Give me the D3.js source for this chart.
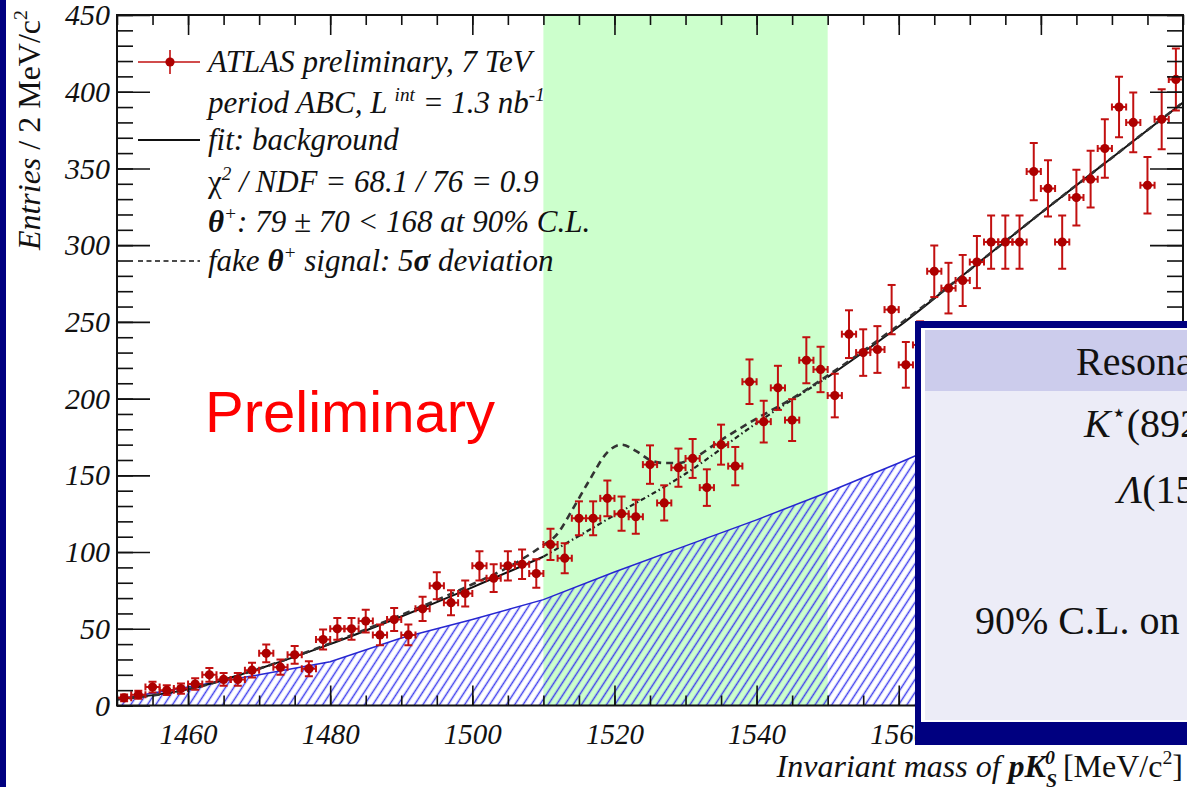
<!DOCTYPE html>
<html>
<head>
<meta charset="utf-8">
<script src="https://cdnjs.cloudflare.com/ajax/libs/d3/7.8.5/d3.min.js"></script>
<style>
  body { margin: 0; background: #fff; overflow: hidden; }
  svg { display: block; }
</style>
</head>
<body>
<svg id="chart" width="1187" height="787"></svg>
<script>

// ---- data ----
// 2 MeV bins, centre of each bin
var binCenters = [1451, 1453, 1455, 1457, 1459, 1461, 1463, 1465, 1467, 1469,
  1471, 1473, 1475, 1477, 1479, 1481, 1483, 1485, 1487, 1489,
  1491, 1493, 1495, 1497, 1499, 1501, 1503, 1505, 1507, 1509,
  1511, 1513, 1515, 1517, 1519, 1521, 1523, 1525, 1527, 1529,
  1531, 1533, 1535, 1537, 1539, 1541, 1543, 1545, 1547, 1549,
  1551, 1553, 1555, 1557, 1559, 1561, 1563, 1565, 1567, 1569,
  1571, 1573, 1575, 1577, 1579, 1581, 1583, 1585, 1587, 1589,
  1591, 1593, 1595, 1597, 1599]

var entries = [5, 7, 12, 10, 11, 14, 20, 17, 17, 23,
  34, 25, 33, 24, 43, 50, 50, 55, 46, 56,
  46, 63, 78, 67, 73, 91, 83, 91, 92, 86,
  105, 96, 122, 122, 135, 125, 123, 157, 132, 155,
  161, 142, 170, 156, 211, 185, 207, 186, 225, 219,
  202, 242, 230, 232, 258, 222, 235, 283, 272, 277,
  289, 302, 302, 302, 348, 337, 302, 331, 343, 363,
  390, 380, 339, 382, 408]

// background fit (solid, dash-dot inside the window)
var bgMass = [1450, 1460, 1470, 1480, 1490, 1500, 1510, 1520, 1530, 1540, 1550, 1560, 1570, 1580, 1590, 1600]
var bgFit = [4, 10.5, 24, 40, 58, 77, 97, 124, 151, 184, 214, 247, 284, 321, 357, 393]

// fake signal curve (dashed)
var sigMass = [1450, 1460, 1470, 1480, 1490, 1500, 1505, 1509.5, 1512, 1514, 1516.5, 1519, 1521, 1523, 1525, 1527, 1529, 1531, 1535, 1540, 1545, 1550, 1560, 1570, 1580, 1590, 1600]
var sigFit = [4, 10.5, 24, 40.5, 59, 79, 90, 103, 112, 127, 147, 165, 170, 166, 160, 158, 158, 161, 173, 187, 200, 215, 248, 284, 321, 357, 393]

// hatched band
var hatchMass = [1450, 1460, 1470, 1480, 1490, 1500, 1510, 1520, 1530, 1540, 1550, 1560, 1570, 1580, 1590, 1600]
var hatchTop = [4, 12, 20, 28.5, 44, 56, 69, 87, 104, 121, 139, 158, 178, 198, 219, 240]

var signalWindow = [1510, 1550]

var xMajorTicks = [1460, 1480, 1500, 1520, 1540, 1560, 1580]
var xTickLabels = ['1460', '1480', '1500', '1520', '1540', '1560', ''] // 1580 sits under the table box
var yMajorTicks = [0, 50, 100, 150, 200, 250, 300, 350, 400, 450]

// ---- setup ----
var svg = d3.select('#chart')
// note: can't call these top/left, window.top is taken
var fLeft = 117, fRight = 1183, fTop = 15, fBottom = 705.5
var serif = "'Liberation Serif', 'Times New Roman', serif"

var x = d3.scaleLinear().domain([1450, 1600]).range([fLeft, fRight])
var y = d3.scaleLinear().domain([0, 450]).range([fBottom, fTop])

svg.append('rect').attr('width', 1187).attr('height', 787).attr('fill', '#fff')
// slide edge on the left
svg.append('rect').attr('width', 6).attr('height', 787).attr('fill', '#000080')

var defs = svg.append('defs')
defs.append('clipPath').attr('id', 'plotclip')
  .append('rect').attr('x', fLeft).attr('y', fTop).attr('width', fRight - fLeft).attr('height', fBottom - fTop)

var hatch = defs.append('pattern').attr('id', 'hatch')
  .attr('patternUnits', 'userSpaceOnUse')
  .attr('width', 7).attr('height', 10)
  .attr('patternTransform', 'rotate(33)')
hatch.append('line').attr('x1', 3.5).attr('y1', -1).attr('x2', 3.5).attr('y2', 11)
  .attr('stroke', '#4040ee').attr('stroke-width', 1.5)

var plot = svg.append('g').attr('clip-path', 'url(#plotclip)')

// green signal window
plot.append('rect')
  .attr('x', x(signalWindow[0]))
  .attr('y', fTop)
  .attr('width', x(signalWindow[1]) - x(signalWindow[0]))
  .attr('height', fBottom - fTop)
  .attr('fill', '#ccffcc')

// hatched area
var hatchData = hatchMass.map(function (m, i) { return { m: m, v: hatchTop[i] } })
var area = d3.area()
  .x(function (d) { return x(d.m) })
  .y0(y(0))
  .y1(function (d) { return y(d.v) })
plot.append('path').datum(hatchData).attr('d', area).attr('fill', 'url(#hatch)')
plot.append('path').datum(hatchData)
  .attr('d', d3.line().x(function (d) { return x(d.m) }).y(function (d) { return y(d.v) }))
  .attr('fill', 'none').attr('stroke', '#2626d0').attr('stroke-width', 1.5)

var curveLine = d3.line()
  .x(function (d) { return x(d.m) })
  .y(function (d) { return y(d.v) })
  .curve(d3.curveMonotoneX)

var bgData = bgMass.map(function (m, i) { return { m: m, v: bgFit[i] } })
var sigData = sigMass.map(function (m, i) { return { m: m, v: sigFit[i] } })

// background: solid outside the window, dash-dot inside
var bgLeft = bgData.filter(function (d) { return d.m <= signalWindow[0] })
var bgMid = bgData.filter(function (d) { return d.m >= signalWindow[0] && d.m <= signalWindow[1] })
var bgRight = bgData.filter(function (d) { return d.m >= signalWindow[1] })

;[bgLeft, bgRight].forEach(function (seg) {
  plot.append('path').datum(seg).attr('d', curveLine)
    .attr('fill', 'none').attr('stroke', '#111').attr('stroke-width', 2)
})
plot.append('path').datum(bgMid).attr('d', curveLine)
  .attr('fill', 'none').attr('stroke', '#222').attr('stroke-width', 2.2)
  .attr('stroke-dasharray', '5,3,1.5,3')

plot.append('path').datum(sigData).attr('d', curveLine)
  .attr('fill', 'none').attr('stroke', '#333').attr('stroke-width', 2.6)
  .attr('stroke-dasharray', '7,5')

// data points with error bars
var pts = binCenters.map(function (c, i) { return { c: c, n: entries[i] } })
var red = '#c21010'
var g = plot.selectAll('g.pt').data(pts).enter().append('g').attr('class', 'pt')

g.append('line') // x error
  .attr('x1', function (d) { return x(d.c - 1) })
  .attr('x2', function (d) { return x(d.c + 1) })
  .attr('y1', function (d) { return y(d.n) })
  .attr('y2', function (d) { return y(d.n) })
g.append('line') // y error, poisson
  .attr('x1', function (d) { return x(d.c) })
  .attr('x2', function (d) { return x(d.c) })
  .attr('y1', function (d) { return y(d.n - Math.sqrt(d.n)) })
  .attr('y2', function (d) { return y(d.n + Math.sqrt(d.n)) })
g.each(function (d) {
  var s = d3.select(this)
  var errs = Math.sqrt(d.n)
  ;[d.n - errs, d.n + errs].forEach(function (v) {
    s.append('line').attr('x1', x(d.c) - 4).attr('x2', x(d.c) + 4)
      .attr('y1', y(v)).attr('y2', y(v))
  })
  ;[d.c - 1, d.c + 1].forEach(function (m) {
    s.append('line').attr('x1', x(m)).attr('x2', x(m))
      .attr('y1', y(d.n) - 3.5).attr('y2', y(d.n) + 3.5)
  })
})
g.selectAll('line').attr('stroke', red).attr('stroke-width', 2)
g.append('circle')
  .attr('cx', function (d) { return x(d.c) })
  .attr('cy', function (d) { return y(d.n) })
  .attr('r', 4.6)
  .attr('fill', '#ad0000')

// ---- axes, ROOT style ticks inside the frame ----
function styleAxis (sel) {
  sel.select('.domain').remove()
  sel.selectAll('.tick line').attr('stroke', '#111').attr('stroke-width', 1.6)
  sel.selectAll('text')
    .attr('font-family', serif)
    .attr('font-style', 'italic')
    .attr('fill', '#111')
}

svg.append('g').attr('transform', 'translate(0,' + fBottom + ')')
  .call(d3.axisBottom(x).tickValues(xMajorTicks).tickSize(-20).tickPadding(18)
    .tickFormat(function (d, i) { return xTickLabels[i] }))
  .call(styleAxis)
  .selectAll('text').attr('font-size', 29)
svg.append('g').attr('transform', 'translate(0,' + fBottom + ')')
  .call(d3.axisBottom(x).tickValues(d3.range(1450, 1601, 5)).tickSize(-10).tickFormat(''))
  .call(styleAxis)
svg.append('g').attr('transform', 'translate(0,' + fTop + ')')
  .call(d3.axisTop(x).tickValues(xMajorTicks).tickSize(-20).tickFormat(''))
  .call(styleAxis)
svg.append('g').attr('transform', 'translate(0,' + fTop + ')')
  .call(d3.axisTop(x).tickValues(d3.range(1450, 1601, 5)).tickSize(-10).tickFormat(''))
  .call(styleAxis)

svg.append('g').attr('transform', 'translate(' + fLeft + ',0)')
  .call(d3.axisLeft(y).tickValues(yMajorTicks).tickSize(-33).tickPadding(7))
  .call(styleAxis)
  .selectAll('text').attr('font-size', 30)
svg.append('g').attr('transform', 'translate(' + fLeft + ',0)')
  .call(d3.axisLeft(y).tickValues(d3.range(0, 451, 10)).tickSize(-16).tickFormat(''))
  .call(styleAxis)
svg.append('g').attr('transform', 'translate(' + fRight + ',0)')
  .call(d3.axisRight(y).tickValues(yMajorTicks).tickSize(-33).tickFormat(''))
  .call(styleAxis)
svg.append('g').attr('transform', 'translate(' + fRight + ',0)')
  .call(d3.axisRight(y).tickValues(d3.range(0, 451, 10)).tickSize(-16).tickFormat(''))
  .call(styleAxis)

svg.append('rect')
  .attr('x', fLeft).attr('y', fTop).attr('width', fRight - fLeft).attr('height', fBottom - fTop)
  .attr('fill', 'none').attr('stroke', '#111').attr('stroke-width', 2)

// rich text helper: parts = [[text, opts]]
function richText (parent, px, py, size, parts, attrs) {
  var t = parent.append('text').attr('x', px).attr('y', py)
    .attr('font-family', serif).attr('font-size', size).attr('fill', '#111')
  for (var k in (attrs || {})) t.attr(k, attrs[k])
  parts.forEach(function (p) {
    var o = p[1] || {}
    var ts = t.append('tspan').text(p[0])
    ts.attr('font-style', o.upright ? 'normal' : 'italic')
    if (o.bold) ts.attr('font-weight', 'bold')
    if (o.sup) ts.attr('font-size', size * 0.62).attr('dy', -size * 0.4)
    if (o.sub) ts.attr('font-size', size * 0.62).attr('dy', size * 0.3)
    if (o.back) ts.attr('dy', o.back)
    if (o.dx) ts.attr('dx', o.dx)
  })
  return t
}

// ---- legend ----
var lx = 208, fs = 31
var leg = svg.append('g')
leg.append('line').attr('x1', 138).attr('x2', 200).attr('y1', 62).attr('y2', 62).attr('stroke', red).attr('stroke-width', 1.6)
leg.append('line').attr('x1', 170).attr('x2', 170).attr('y1', 50).attr('y2', 74).attr('stroke', red).attr('stroke-width', 1.6)
leg.append('circle').attr('cx', 170).attr('cy', 62).attr('r', 4.6).attr('fill', '#ad0000')
leg.append('line').attr('x1', 138).attr('x2', 200).attr('y1', 140).attr('y2', 140).attr('stroke', '#111').attr('stroke-width', 2)
leg.append('line').attr('x1', 138).attr('x2', 200).attr('y1', 261).attr('y2', 261).attr('stroke', '#111').attr('stroke-width', 1.6).attr('stroke-dasharray', '5,3.5')

richText(leg, lx, 72, fs, [['ATLAS preliminary, 7 TeV']])
richText(leg, lx, 113, fs, [['period ABC, L '], ['int', { sup: true }], [' = 1.3 nb', { back: fs * 0.4 }], ['-1', { sup: true }]])
richText(leg, lx, 150, fs, [['fit: background']])
richText(leg, lx, 192, fs, [['\u03c7', { upright: true }], ['2', { sup: true }], [' / NDF = 68.1 / 76 = 0.9', { back: fs * 0.4 }]])
richText(leg, lx, 232, fs, [['\u03b8', { bold: true }], ['+', { sup: true }], [': 79 \u00b1 70 < 168 at 90% C.L.', { back: fs * 0.4 }]])
richText(leg, lx, 271, fs, [['fake  '], ['\u03b8', { bold: true }], ['+', { sup: true }], [' signal: 5', { back: fs * 0.4 }], ['\u03c3', { bold: true }], [' deviation']])

// ---- axis titles ----
richText(svg, 0, 0, 32, [['Entries'], [' / 2 MeV/c', { upright: true }], ['2', { sup: true, upright: true }]],
  { transform: 'translate(40,10) rotate(-90)', 'text-anchor': 'end' })

var tx = 32
richText(svg, 1183, 777, tx, [['Invariant mass of  '], ['pK', { bold: true }], ['S', { bold: true, sub: true }],
  ['0', { bold: true, sup: true, back: -tx * 0.7, dx: -12 }], ['  [MeV/c', { upright: true, back: tx * 0.4 }],
  ['2', { upright: true, sup: true }], [']', { upright: true, back: tx * 0.4 }]],
  { 'text-anchor': 'end' })

svg.append('text').attr('x', 205).attr('y', 432)
  .attr('font-family', "'Liberation Sans', Arial, sans-serif")
  .attr('font-size', 58).attr('fill', '#ff0000')
  .text('Preliminary')

// ---- overlay table box (runs off the slide) ----
var box = svg.append('g')
box.append('rect').attr('x', 915).attr('y', 321).attr('width', 300).attr('height', 424).attr('fill', '#000080')
box.append('rect').attr('x', 921).attr('y', 328).attr('width', 300).attr('height', 394).attr('fill', '#fff')
box.append('rect').attr('x', 925).attr('y', 330).attr('width', 300).attr('height', 390).attr('fill', '#ececf7')
box.append('rect').attr('x', 925).attr('y', 330).attr('width', 300).attr('height', 61).attr('fill', '#ccccec')

var tfs = 40
richText(box, 1076, 375, tfs, [['Resonance', { upright: true }]])
richText(box, 1084, 437, tfs, [['K'], ['\u22c6', { sup: true, upright: true }], ['(892)', { upright: true, back: tfs * 0.4 }]])
richText(box, 1118, 503, tfs, [['\u039b'], ['(1520)', { upright: true }]])
richText(box, 975, 634, tfs, [['90% C.L. on \u0398', { upright: true }], ['+', { sup: true, upright: true }]])

</script>
</body>
</html>
